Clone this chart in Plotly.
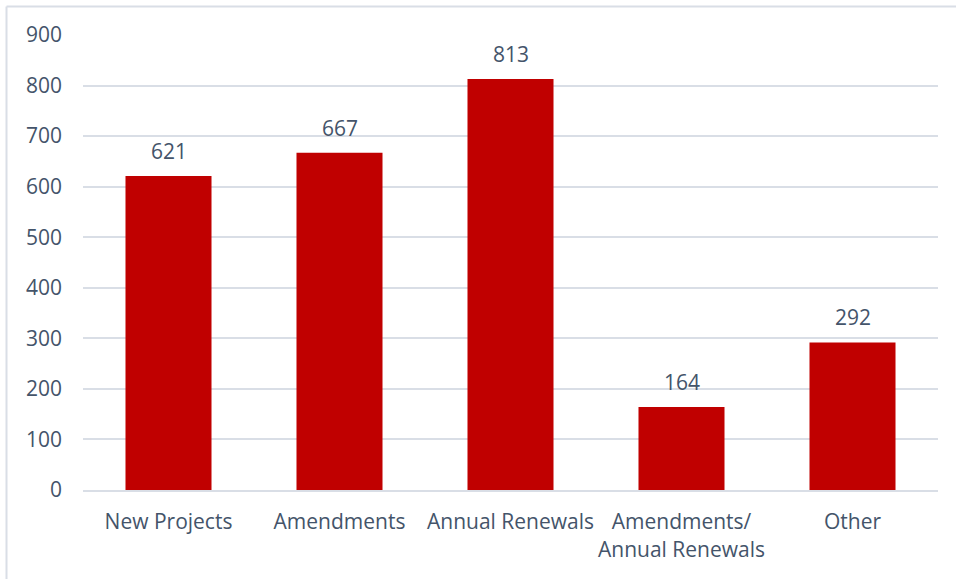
import plotly.graph_objects as go

categories = ["New Projects", "Amendments", "Annual Renewals", "Amendments/<br>Annual Renewals", "Other"]
values = [621, 667, 813, 164, 292]
y_ticks = [0, 100, 200, 300, 400, 500, 600, 700, 800, 900]

W, H = 956, 579
L, R, T, B = 83, 18, 35, 89
pw, ph = W - L - R, H - T - B

def px_x(p):
    return (p - L) / pw

def px_y(p):
    return (H - B - p) / ph

text_color = "#44546A"
grid_color = "#D9DEE6"

fig = go.Figure(go.Bar(
    x=categories, y=values,
    marker=dict(color="#C00000", line=dict(width=0)),
    cliponaxis=False, hoverinfo="x+y",
))

for c, v in zip(categories, values):
    fig.add_annotation(x=c, y=v, text=str(v), showarrow=False, yanchor="bottom",
                       yshift=9, font=dict(size=21, color=text_color))

border = dict(color=grid_color, width=2)
fig.update_layout(
    width=W, height=H,
    margin=dict(l=L, r=R, t=T, b=B),
    paper_bgcolor="white", plot_bgcolor="white",
    font=dict(family="Open Sans, Liberation Sans, sans-serif", size=21, color=text_color),
    bargap=0.497,
    showlegend=False,
    xaxis=dict(showgrid=False, showline=True, linecolor=grid_color, linewidth=2,
               ticks="", ticklabelstandoff=12, tickfont=dict(size=21, color=text_color)),
    yaxis=dict(range=[0, 900], tickvals=y_ticks, showgrid=True, gridcolor=grid_color,
               gridwidth=2, zeroline=False, showline=False, ticks="",
               ticklabelstandoff=20, tickfont=dict(size=21, color=text_color)),
    shapes=[
        dict(type="line", xref="paper", yref="paper",
             x0=px_x(6.5), x1=px_x(960), y0=px_y(6.5), y1=px_y(6.5),
             line=border, layer="below"),
        dict(type="line", xref="paper", yref="paper",
             x0=px_x(6.5), x1=px_x(6.5), y0=px_y(585), y1=px_y(6.5),
             line=border, layer="below"),
    ],
)

fig.write_html("out.html", config={"displayModeBar": False},
               post_script="document.body.style.margin='0';document.body.style.overflow='hidden';")
